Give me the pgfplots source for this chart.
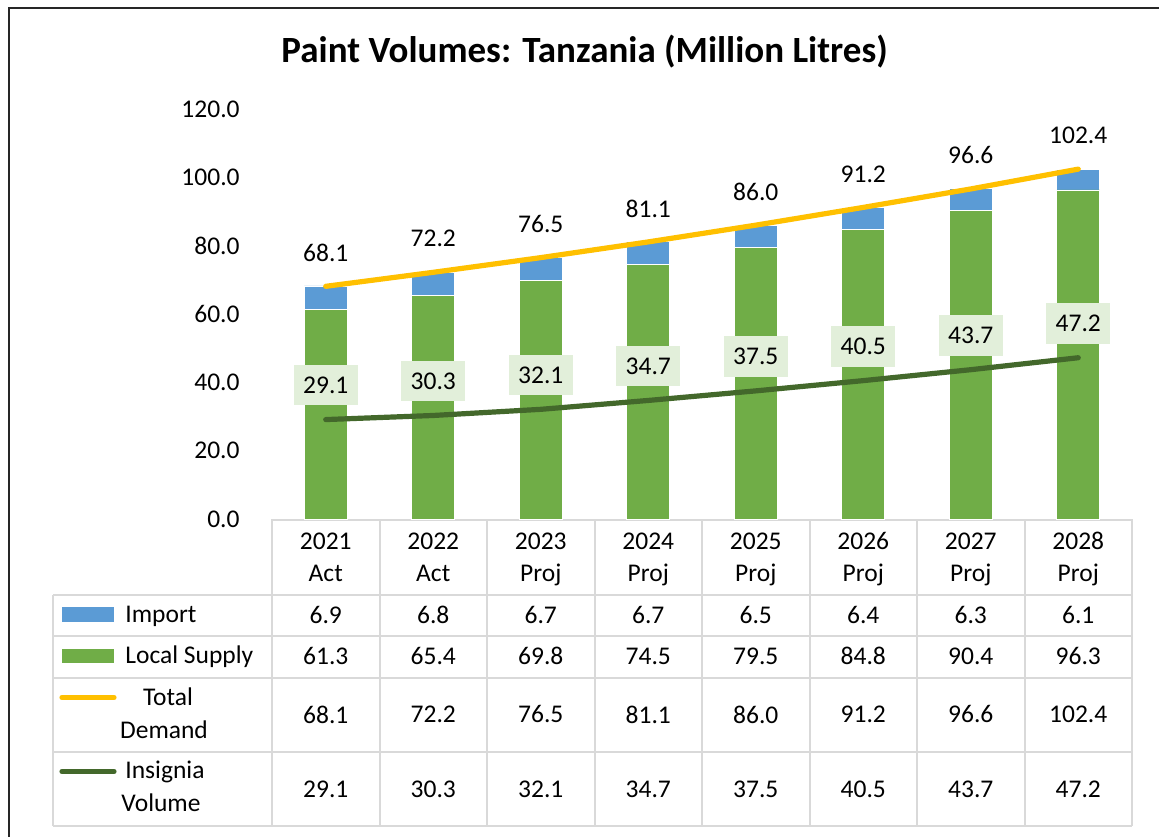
\documentclass[border=0pt]{standalone}
\usepackage{pgfplots}
\pgfplotsset{compat=1.18}
\usepackage{pgfplotstable}
\usepackage{fontspec}
\setmainfont{Carlito}
\definecolor{impblue}{HTML}{5B9BD5}
\definecolor{locgreen}{HTML}{70AD47}
\definecolor{totgold}{HTML}{FFC000}
\definecolor{insgreen}{HTML}{43682B}
\definecolor{lblbox}{HTML}{E2EFDA}
\definecolor{tgrid}{HTML}{D9D9D9}
\newcommand{\cf}{\fontsize{12.75}{15.5}\selectfont}
\newcommand{\st}{\rule{0pt}{10pt}}
\pgfplotsset{/pgf/number format/assume math mode=true}

\pgfplotstableread{
x import local total insignia
0 6.9 61.3 68.1 29.1
1 6.8 65.4 72.2 30.3
2 6.7 69.8 76.5 32.1
3 6.7 74.5 81.1 34.7
4 6.5 79.5 86.0 37.5
5 6.4 84.8 91.2 40.5
6 6.3 90.4 96.6 43.7
7 6.1 96.3 102.4 47.2
}\datatab

\newcommand{\fmtmeta}{\pgfmathprintnumber[fixed,fixed zerofill,precision=1]{\pgfplotspointmeta}}

\begin{document}
\begin{tikzpicture}
\begin{scope}[x=0.5pt,y=0.5pt]
\fill[white] (0,0) rectangle (1159,836);
\draw[line width=0.9pt, black!85] (9,828) rectangle (1200,-50);
% table grid
\begin{scope}[draw=tgrid, line width=1pt]
\draw (272,316.5) -- (1132,316.5);
\foreach \yy in {241,200,158.5,84,10} \draw (53,\yy) -- (1132,\yy);
\draw (53,241) -- (53,10);
\foreach \k in {0,...,8} \draw ({272+107.5*\k},317) -- ({272+107.5*\k},10);
\end{scope}
% legend column
\fill[impblue] (62,229) rectangle (114,214);
\fill[locgreen] (62,187) rectangle (114,173);
\draw[totgold, line width=2.6pt, line cap=round] (62,138.5) -- (114,138.5);
\draw[insgreen, line width=2.6pt, line cap=round] (62,64.5) -- (114,64.5);
\node[anchor=base west, inner sep=0pt, font=\cf] at (125,214) {Import};
\node[anchor=base west, inner sep=0pt, font=\cf] at (125,173) {Local Supply};
\node[anchor=base, inner sep=0pt, font=\cf] at (168,131) {Total};
\node[anchor=base, inner sep=0pt, font=\cf] at (164,98) {Demand};
\node[anchor=base west, inner sep=0pt, font=\cf] at (125,58) {Insignia};
\node[anchor=base west, inner sep=0pt, font=\cf] at (121,25) {Volume};
% title
\node[anchor=base, inner sep=0pt, font=\fontsize{18.5}{22}\selectfont\bfseries] at (584.5,773) {Paint Volumes: Tanzania (Million Litres)};
\end{scope}

\begin{axis}[
  at={(136pt,158.5pt)}, anchor=south west,
  scale only axis, width=430pt, height=205pt,
  xmin=-0.5, xmax=7.5, ymin=0, ymax=120,
  clip=false,
  axis lines=left, axis line style={draw=none,-},
  major tick length=0pt,
  ytick={0,20,...,120},
  y tick label style={anchor=east, inner sep=0pt, xshift=-16pt, font=\cf},
  yticklabel={\pgfmathprintnumber[fixed,fixed zerofill,precision=1]{\tick}},
  xtick={0,...,7},
  xticklabels={{\st 2021\\Act},{\st 2022\\Act},{\st 2023\\Proj},{\st 2024\\Proj},{\st 2025\\Proj},{\st 2026\\Proj},{\st 2027\\Proj},{\st 2028\\Proj}},
  x tick label style={anchor=north, align=center, inner sep=0pt, yshift=-5pt,
    font=\fontsize{12.75}{16}\selectfont},
]
\addplot[ybar, bar width=21.5pt, bar shift=0pt, fill=impblue, draw=white, line width=0.35pt]
  table[x=x, y expr=\thisrow{local}+\thisrow{import}] {\datatab};
\addplot[ybar, bar width=21.5pt, bar shift=0pt, fill=locgreen, draw=white, line width=0.35pt]
  table[x=x, y=local] {\datatab};
\addplot[totgold, line width=2.6pt, line cap=round, mark=none,
  nodes near coords={\fmtmeta}, point meta=explicit,
  nodes near coords style={anchor=center, yshift=16.75pt, text=black, font=\cf, inner sep=0pt}]
  table[x=x, y=total, meta=total] {\datatab};
\addplot[insgreen, line width=2.6pt, line cap=round, mark=none,
  nodes near coords={\fmtmeta}, point meta=explicit,
  nodes near coords style={anchor=center, yshift=17.2pt, text=black, fill=lblbox,
    minimum width=31.8pt, minimum height=20.3pt, inner sep=0pt, font=\cf}]
  table[x=x, y=insignia, meta=insignia] {\datatab};
% data table rows
\addplot[draw=none, mark=none, nodes near coords={\fmtmeta}, point meta=explicit,
  nodes near coords style={anchor=center, text=black, font=\cf, inner sep=0pt}]
  table[x=x, y expr=-28.1, meta=import] {\datatab};
\addplot[draw=none, mark=none, nodes near coords={\fmtmeta}, point meta=explicit,
  nodes near coords style={anchor=center, text=black, font=\cf, inner sep=0pt}]
  table[x=x, y expr=-40.1, meta=local] {\datatab};
\addplot[draw=none, mark=none, nodes near coords={\fmtmeta}, point meta=explicit,
  nodes near coords style={anchor=center, text=black, font=\cf, inner sep=0pt}]
  table[x=x, y expr=-57.2, meta=total] {\datatab};
\addplot[draw=none, mark=none, nodes near coords={\fmtmeta}, point meta=explicit,
  nodes near coords style={anchor=center, text=black, font=\cf, inner sep=0pt}]
  table[x=x, y expr=-79.0, meta=insignia] {\datatab};
\end{axis}
\pgfresetboundingbox
\useasboundingbox (0,0) rectangle (579.5pt,418pt);
\end{tikzpicture}
\end{document}
